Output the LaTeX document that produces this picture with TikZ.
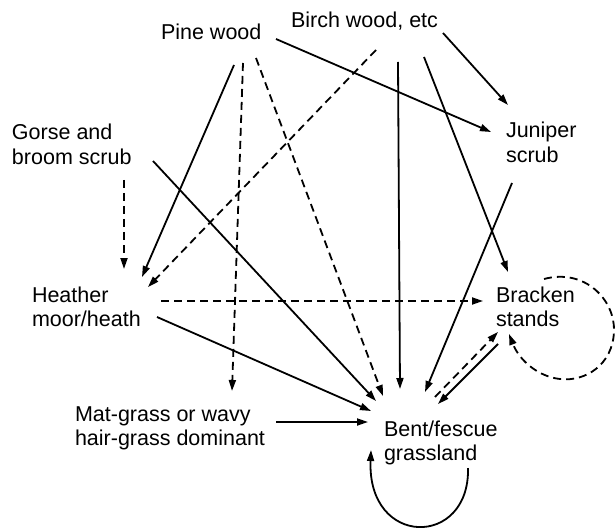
\documentclass[tikz,border=0pt]{standalone}
\usepackage{fontspec}
\setmainfont{Liberation Sans}
\usetikzlibrary{arrows.meta,calc}
\begin{document}
\begin{tikzpicture}[x=1pt,y=-1pt,
  lbl/.style={anchor=north west, inner sep=0pt, outer sep=0pt, align=left,
              font=\fontsize{21.5}{24.5}\selectfont},
  conn/.style={line width=1.8pt, -{Triangle[length=11pt,width=7pt]}},
  dconn/.style={conn, dash pattern=on 8pt off 5pt},
]
\useasboundingbox (0,0) rectangle (615,529);

\node[lbl] (pine)    at (161,24)  {\rule{0pt}{16pt}Pine wood};
\node[lbl] (birch)   at (291,12)  {\rule{0pt}{16pt}Birch wood, etc};
\node[lbl] (gorse)   at (12,124)  {\rule{0pt}{16pt}Gorse and\\broom scrub};
\node[lbl] (juniper) at (506,122) {\rule{0pt}{16pt}Juniper\\scrub};
\node[lbl] (heather) at (32,286)  {\rule{0pt}{16pt}Heather\\moor/heath};
\node[lbl] (bracken) at (496,286) {\rule{0pt}{16pt}Bracken\\stands};
\node[lbl] (mat)     at (75,405)  {\rule{0pt}{16pt}Mat-grass or wavy\\hair-grass dominant};
\node[lbl] (bent)    at (384,420) {\rule{0pt}{16pt}Bent/fescue\\grassland};

% from Pine wood
\draw[conn]  ($(pine.north west)+(115,15)$) -- ($(juniper.north west)+(-15,10)$);
\draw[conn]  ($(pine.north west)+(73,41)$)  -- ($(heather.north west)+(110,-9)$);
\draw[dconn] ($(pine.north west)+(82,39)$)  -- ($(mat.north west)+(157,-14)$);
\draw[dconn] ($(pine.north west)+(95,34)$)  -- ($(bent.north west)+(-1,-24)$);

% from Birch wood
\draw[conn]  ($(birch.north west)+(152,21)$) -- ($(juniper.north west)+(2,-17)$);
\draw[dconn] ($(birch.north west)+(85,38)$)  -- ($(heather.north west)+(116,1)$);
\draw[conn]  ($(birch.north west)+(107,50)$) -- ($(bent.north west)+(16,-31)$);
\draw[conn]  ($(birch.north west)+(133,45)$) -- ($(bracken.north west)+(12,-14)$);

% from Gorse and broom scrub
\draw[dconn] ($(gorse.north west)+(112,56)$) -- ($(heather.north west)+(92,-17)$);
\draw[conn]  ($(gorse.north west)+(141,37)$) -- ($(bent.north west)+(-8,-19)$);

% from Heather moor/heath
\draw[dconn] ($(heather.north west)+(129,15)$) -- ($(bracken.north west)+(-13,15)$);
\draw[conn]  ($(heather.north west)+(125,31)$) -- ($(bent.north west)+(-13,-9)$);

% from Mat-grass
\draw[conn]  ($(mat.north west)+(201,17)$) -- ($(bent.north west)+(-16,2)$);

% from Juniper scrub
\draw[conn]  ($(juniper.north west)+(6,61)$) -- ($(bent.north west)+(41,-28)$);

% Bent <-> Bracken
\draw[dconn] ($(bent.north west)+(51,-23)$) -- ($(bracken.north west)+(2,46)$);
\draw[conn]  ($(bracken.north west)+(2,58)$) -- ($(bent.north west)+(54,-16)$);

% self loops
\draw[conn] ($(bent.north west)+(84,48)$) .. controls +(2,80) and +(-4,98) .. ($(bent.north west)+(-13,30)$);
\draw[dconn] ($(bracken.north west)+(48,-7)$)
   .. controls ($(bracken.north west)+(89,-18)$) and ($(bracken.north west)+(119,14)$) .. ($(bracken.north west)+(118,45)$)
   .. controls ($(bracken.north west)+(117,79)$) and ($(bracken.north west)+(89,96)$) .. ($(bracken.north west)+(64,93)$)
   .. controls ($(bracken.north west)+(44,91)$) and ($(bracken.north west)+(24,76)$) .. ($(bracken.north west)+(13,48)$);
\end{tikzpicture}
\end{document}
